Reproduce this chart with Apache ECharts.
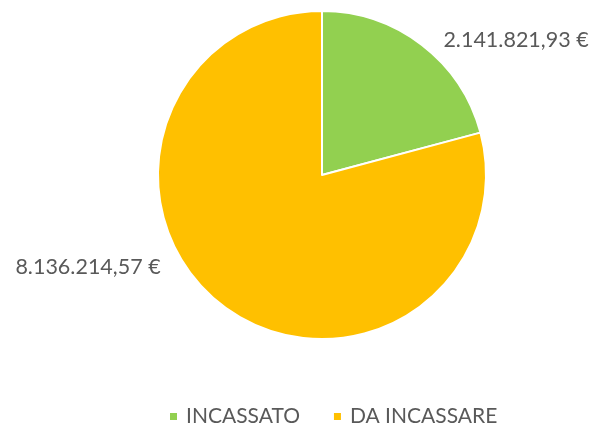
<!DOCTYPE html>
<html><head><meta charset="utf-8">
<script src="https://cdn.jsdelivr.net/npm/echarts@6/dist/echarts.min.js"></script>
<style>html,body{margin:0;padding:0;background:#fff}#c{width:600px;height:431px}</style>
</head><body><div id="c"></div>
<script>
const categories = ['INCASSATO', 'DA INCASSARE'];
const values = [2141821.93, 8136214.57];
const labelsText = ['2.141.821,93 €', '8.136.214,57 €'];
const colors = ['#92D050', '#FFC000'];

const chart = echarts.init(document.getElementById('c'), null, {renderer: 'canvas'});
const font = 'Lato, "Open Sans", sans-serif';
chart.setOption({
  animation: false,
  legend: {
    top: 406, left: 168, padding: 0,
    itemWidth: 9, itemHeight: 9, itemGap: 32,
    icon: 'rect',
    textStyle: {fontFamily: font, fontSize: 21, color: '#595959', padding: [0, 0, 0, 3]},
    data: categories
  },
  series: [{
    type: 'pie',
    center: [322, 175],
    radius: [0, 164],
    startAngle: 90,
    clockwise: true,
    itemStyle: {borderColor: '#fff', borderWidth: 2},
    label: {
      show: true, position: 'outside',
      formatter: p => labelsText[p.dataIndex],
      fontFamily: font, fontSize: 21.5, color: '#595959',
      overflow: 'none', edgeDistance: 0, bleedMargin: 0
    },
    labelLine: {show: false},
    labelLayout: function (p) {
      if (p.dataIndex === 0) return {x: 516, y: 40, align: 'center', verticalAlign: 'middle'};
      return {x: 88, y: 267, align: 'center', verticalAlign: 'middle'};
    },
    data: categories.map((c, i) => ({name: c, value: values[i], itemStyle: {color: colors[i]}}))
  }]
});
</script></body></html>
